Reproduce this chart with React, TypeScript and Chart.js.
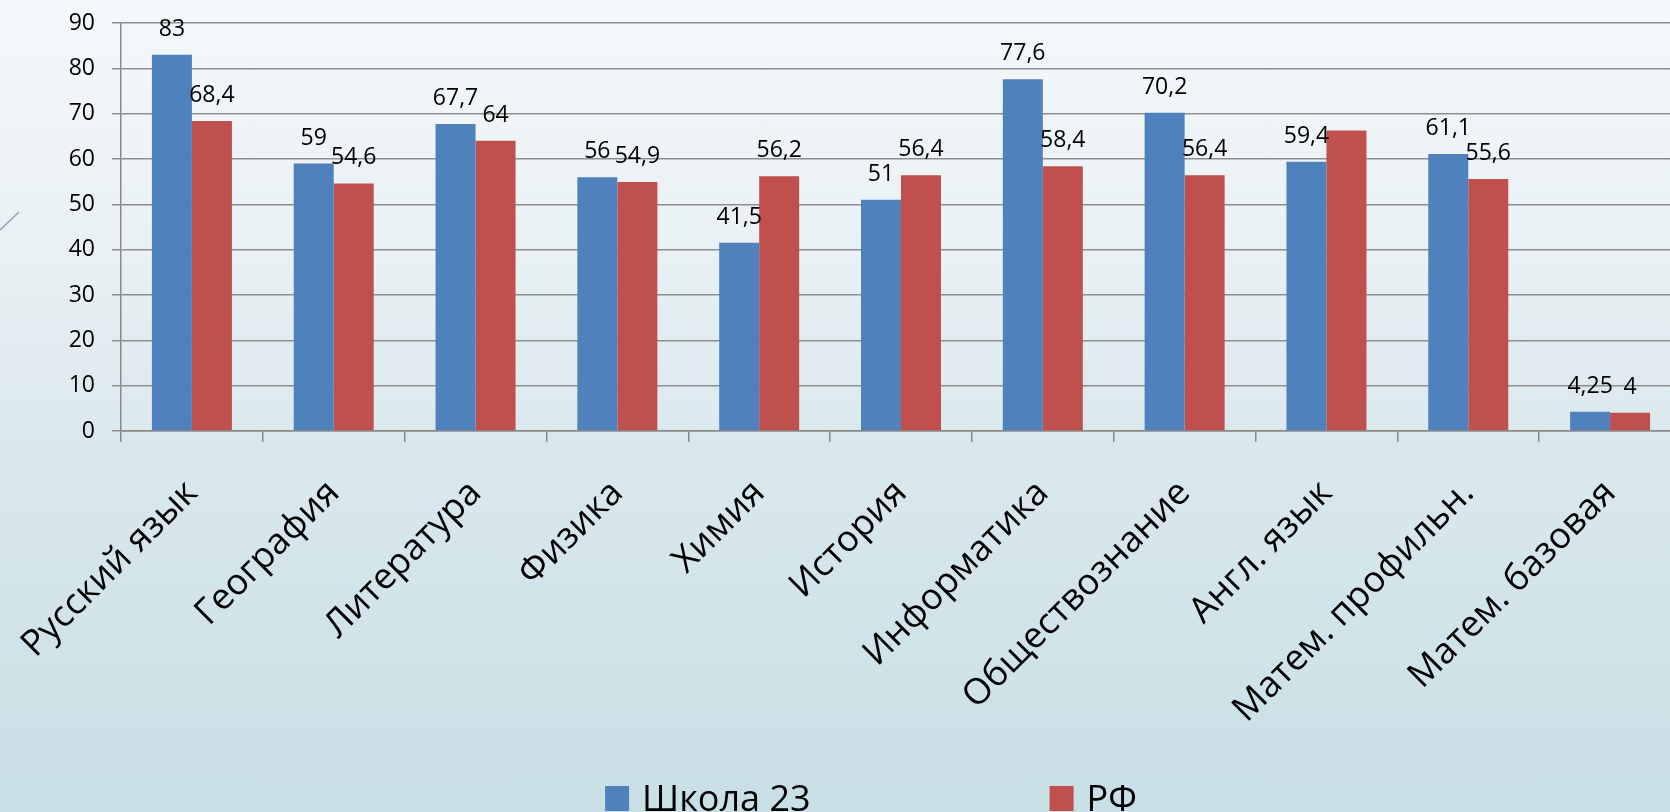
import React, { useEffect, useRef } from 'react';
import { Chart, registerables } from 'chart.js';

Chart.register(...registerables);

const categories = [
  'Русский язык',
  'География',
  'Литература',
  'Физика',
  'Химия',
  'История',
  'Информатика',
  'Обществознание',
  'Англ. язык',
  'Матем. профильн.',
  'Матем. базовая',
];
const school23 = [83, 59, 67.7, 56, 41.5, 51, 77.6, 70.2, 59.4, 61.1, 4.25];
const rf = [68.4, 54.6, 64, 54.9, 56.2, 56.4, 58.4, 56.4, 66.3, 55.6, 4];
const seriesNames = ['Школа 23', 'РФ'];
const seriesColors = ['#4f81bd', '#c0504d'];
const yMax = 90;
const yStep = 10;
// value labels that the reference does not show: [datasetIndex, index]
const hiddenValueLabels: [number, number][] = [[1, 8]];

const FONT = '"Open Sans", "Noto Sans", sans-serif';

const fmt = (v: number) => String(v).replace('.', ',');

const valueLabelsPlugin = {
  id: 'valueLabels',
  afterDatasetsDraw(chart: any) {
    const ctx = chart.ctx;
    ctx.save();
    ctx.font = `23px ${FONT}`;
    ctx.fillStyle = '#000';
    ctx.textAlign = 'center';
    ctx.textBaseline = 'alphabetic';
    chart.data.datasets.forEach((ds: any, di: number) => {
      const meta = chart.getDatasetMeta(di);
      meta.data.forEach((el: any, i: number) => {
        if (hiddenValueLabels.some(([d, j]) => d === di && j === i)) return;
        ctx.fillText(fmt(ds.data[i]), el.x, el.y - 19);
      });
    });
    ctx.restore();
  },
};

const decorPlugin = {
  id: 'decor',
  beforeDraw(chart: any) {
    const ctx = chart.ctx;
    ctx.save();
    ctx.strokeStyle = '#8aa4b4';
    ctx.lineWidth = 1.5;
    ctx.beginPath();
    ctx.moveTo(0, 230);
    ctx.lineTo(19, 212);
    ctx.stroke();
    ctx.restore();
  },
};

const legendPlugin = {
  id: 'customLegend',
  afterDraw(chart: any) {
    const ctx = chart.ctx;
    ctx.save();
    ctx.font = `36px ${FONT}`;
    const box = 24;
    const gapText = 13;
    const gapItems = 239;
    const items = chart.data.datasets.map((ds: any) => ({
      label: ds.label,
      color: ds.backgroundColor,
      w: box + gapText + ctx.measureText(ds.label).width,
    }));
    const total =
      items.reduce((s: number, it: any) => s + it.w, 0) + gapItems * (items.length - 1);
    let x = 871 - total / 2;
    const boxTop = 786;
    items.forEach((it: any) => {
      ctx.fillStyle = it.color;
      ctx.fillRect(x, boxTop, box, box + 1);
      ctx.fillStyle = '#000';
      ctx.textAlign = 'left';
      ctx.textBaseline = 'alphabetic';
      ctx.fillText(it.label, x + box + gapText, boxTop + 25);
      x += it.w + gapItems;
    });
    ctx.restore();
  },
};

export default function App() {
  const ref = useRef<HTMLCanvasElement | null>(null);

  useEffect(() => {
    if (!ref.current) return;
    const chart = new Chart(ref.current, {
      type: 'bar',
      data: {
        labels: categories,
        datasets: [
          { label: seriesNames[0], data: school23, backgroundColor: seriesColors[0] },
          { label: seriesNames[1], data: rf, backgroundColor: seriesColors[1] },
        ],
      },
      options: {
        responsive: false,
        animation: false,
        devicePixelRatio: 1,
        layout: { padding: { top: 23, left: 0, right: 0, bottom: 0 } },
        plugins: {
          legend: { display: false },
          tooltip: { enabled: false },
          title: { display: false },
        },
        datasets: {
          bar: { categoryPercentage: 0.564, barPercentage: 1 },
        },
        scales: {
          x: {
            grid: {
              display: true,
              drawOnChartArea: false,
              drawTicks: true,
              tickLength: 11,
              color: '#8a8a8a',
              lineWidth: 1.5,
              offset: true,
            },
            border: { display: true, color: '#8a8a8a', width: 1.5 },
            ticks: {
              color: '#000',
              font: { family: FONT, size: 36 },
              minRotation: 45,
              maxRotation: 45,
              autoSkip: false,
              padding: 30,
            },
            afterFit(scale: any) {
              scale.height = 812 - 431;
              scale.paddingLeft = 0;
              scale.paddingRight = 0;
            },
          },
          y: {
            min: 0,
            max: yMax,
            ticks: {
              stepSize: yStep,
              color: '#000',
              font: { family: FONT, size: 23 },
              padding: 17,
            },
            grid: {
              color: '#8e8e8e',
              lineWidth: 1.5,
              tickLength: 9,
              drawTicks: true,
            },
            border: { display: true, color: '#8a8a8a', width: 1.5 },
            afterFit(scale: any) {
              scale.width = 121;
              scale.paddingTop = 0;
              scale.paddingBottom = 0;
            },
          },
        },
      },
      plugins: [decorPlugin, valueLabelsPlugin, legendPlugin],
    });
    return () => chart.destroy();
  }, []);

  return (
    <div
      style={{
        position: 'fixed',
        left: 0,
        top: 0,
        width: 1670,
        height: 812,
        overflow: 'hidden',
        background:
          'linear-gradient(to bottom, #f5f8fa 0%, #e9f1f4 30%, #dae8ed 55%, #c8dfe5 100%)',
      }}
    >
      <canvas ref={ref} width={1681} height={812} style={{ display: 'block', width: 1681, height: 812 }} />
    </div>
  );
}
